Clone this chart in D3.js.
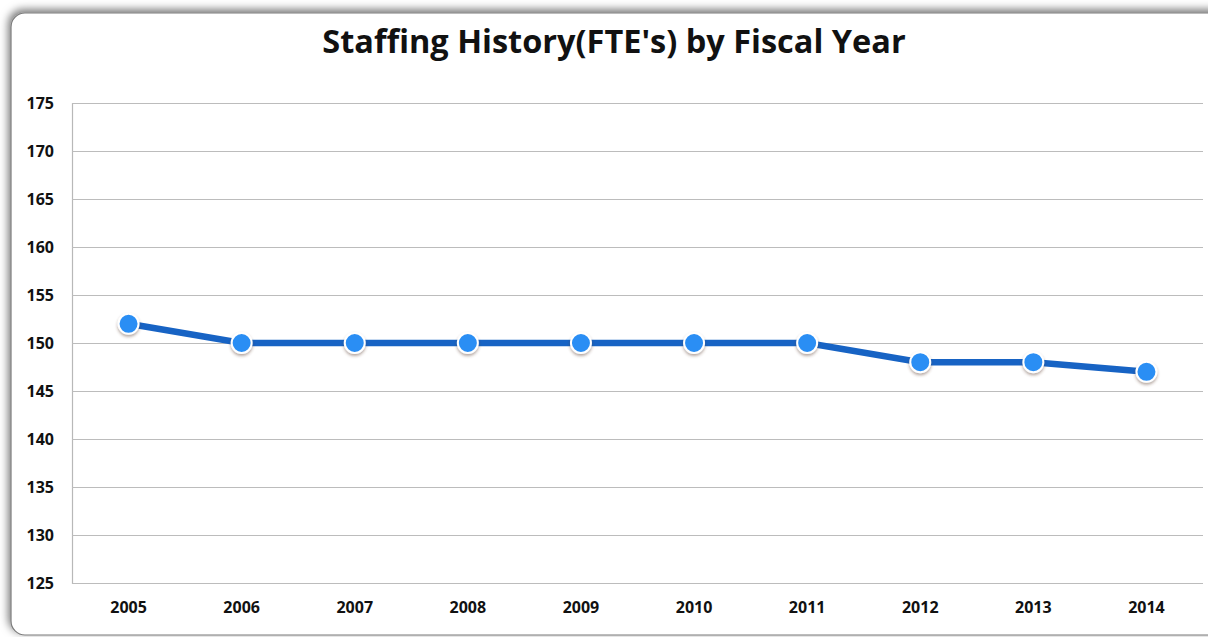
<!DOCTYPE html>
<html>
<head>
<meta charset="utf-8">
<script src="https://cdn.jsdelivr.net/npm/d3@7"></script>
<style>
  html, body { margin: 0; padding: 0; background: #ffffff; }
  svg { display: block; }
</style>
</head>
<body>
<svg id="chart" width="1208" height="637"></svg>
<script>
// Staffing levels (full-time equivalents) per fiscal year
const years = ["2005", "2006", "2007", "2008", "2009", "2010", "2011", "2012", "2013", "2014"];
const fte = [152, 150, 150, 150, 150, 150, 150, 148, 148, 147];
const yTicks = [125, 130, 135, 140, 145, 150, 155, 160, 165, 170, 175];
const title = "Staffing History(FTE's) by Fiscal Year";

const W = 1208, H = 637;
const margin = { top: 103, right: 5, bottom: 54, left: 72 };
const svg = d3.select("#chart");
const font = "'Open Sans', 'Liberation Sans', sans-serif";

const defs = svg.append("defs");
const frameShadow = defs.append("filter").attr("id", "frameShadow")
  .attr("x", "-5%").attr("y", "-10%").attr("width", "110%").attr("height", "120%");
frameShadow.append("feDropShadow").attr("dx", -2).attr("dy", -3)
  .attr("stdDeviation", 4).attr("flood-color", "#000").attr("flood-opacity", 0.55);

const dotShadow = defs.append("filter").attr("id", "dotShadow")
  .attr("x", "-50%").attr("y", "-50%").attr("width", "200%").attr("height", "200%");
dotShadow.append("feDropShadow").attr("dx", 0).attr("dy", 2)
  .attr("stdDeviation", 1.6).attr("flood-color", "#5a3a2a").attr("flood-opacity", 0.45);

// Panel frame
svg.append("rect")
  .attr("x", 11).attr("y", 13)
  .attr("width", W + 30).attr("height", H - 15)
  .attr("rx", 14).attr("ry", 14)
  .attr("fill", "#ffffff")
  .attr("stroke", "#7a7a7a").attr("stroke-width", 1.2)
  .attr("filter", "url(#frameShadow)");

// Title
svg.append("text")
  .attr("x", 614).attr("y", 53)
  .attr("text-anchor", "middle")
  .attr("font-family", font)
  .attr("font-weight", 700)
  .attr("font-size", 32.5)
  .attr("fill", "#111")
  .text(title);

const x = d3.scaleBand().domain(years).range([margin.left, W - margin.right]);
const y = d3.scaleLinear().domain([125, 175]).range([H - margin.bottom, margin.top]);

// Horizontal gridlines
const yAxis = svg.append("g")
  .attr("transform", `translate(${margin.left},0)`)
  .call(d3.axisLeft(y).tickValues(yTicks).tickSize(-(W - margin.right - margin.left)).tickPadding(18).tickFormat(d3.format("d")));
yAxis.select(".domain").attr("stroke", "#b8b8b8").attr("stroke-width", 1.2);
yAxis.selectAll(".tick line").attr("stroke", "#bcbcbc").attr("stroke-width", 1.2);
yAxis.selectAll(".tick text")
  .attr("font-family", font).attr("font-weight", 700).attr("font-size", 16).attr("fill", "#111");

// Category axis labels
const xAxis = svg.append("g")
  .attr("transform", `translate(0,${H - margin.bottom})`)
  .call(d3.axisBottom(x).tickSize(0).tickPadding(19));
xAxis.select(".domain").remove();
xAxis.selectAll(".tick text")
  .attr("font-family", font).attr("font-weight", 700).attr("font-size", 16).attr("fill", "#111");

const cx = d => x(d) + x.bandwidth() / 2;

// Series line
const line = d3.line().x((d, i) => cx(years[i])).y(d => y(d));
svg.append("path")
  .datum(fte)
  .attr("d", line)
  .attr("fill", "none")
  .attr("stroke", "#1763c4")
  .attr("stroke-width", 6.5);

// Markers
svg.append("g").selectAll("circle")
  .data(fte)
  .join("circle")
  .attr("cx", (d, i) => cx(years[i]))
  .attr("cy", d => y(d))
  .attr("r", 10)
  .attr("fill", "#2a8ef4")
  .attr("stroke", "#ffffff")
  .attr("stroke-width", 2)
  .attr("filter", "url(#dotShadow)");
</script>
</body>
</html>
